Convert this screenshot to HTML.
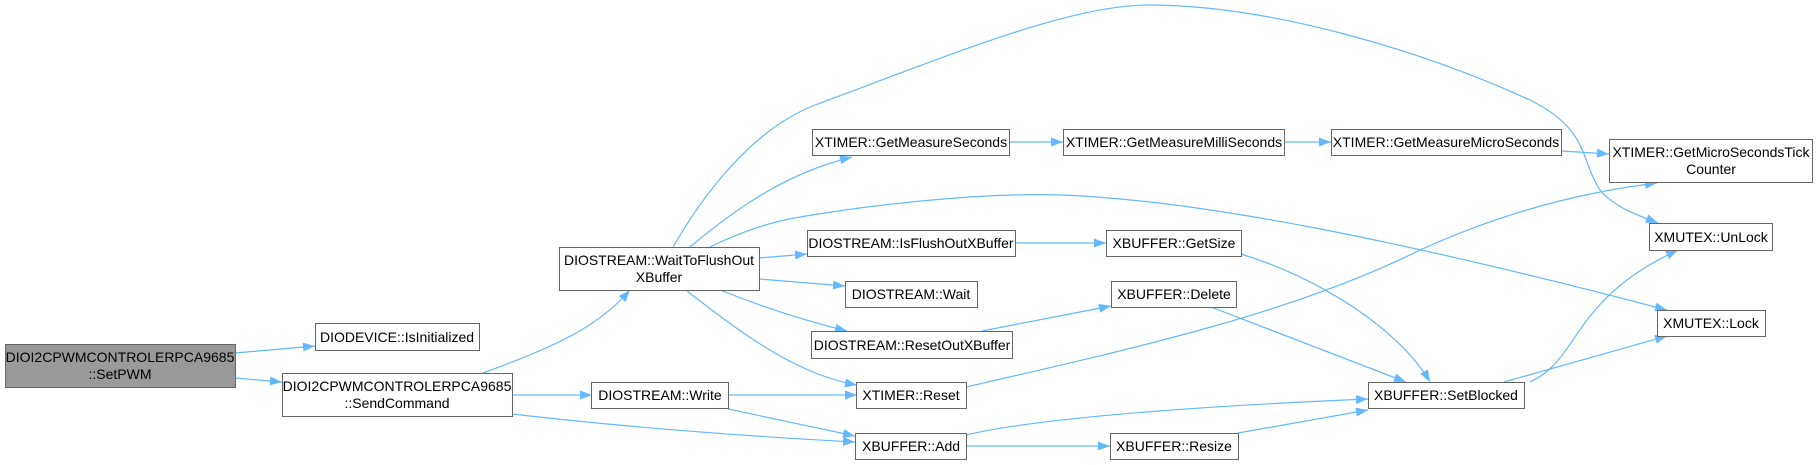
<!DOCTYPE html>
<html><head><meta charset="utf-8"><style>
html,body{margin:0;padding:0;background:#fff;width:1818px;height:465px;overflow:hidden}
svg text{font-family:"Liberation Sans",Arial,sans-serif;font-size:14px;fill:#000;text-anchor:middle}
.n{fill:#fff;stroke:#666;stroke-width:1}
.e{fill:none;stroke:#63b8ff;stroke-width:1.2}
</style></head><body>
<svg width="1818" height="465" viewBox="0 0 1818 465" xmlns="http://www.w3.org/2000/svg">
<defs><marker id="a" viewBox="0 0 12 9" refX="12" refY="4.5" markerWidth="12" markerHeight="9" markerUnits="userSpaceOnUse" orient="auto"><path d="M0,0L12,4.5L0,9z" fill="#63b8ff"/></marker></defs>
<g marker-end="url(#a)">
<path class="e" d="M235,353L315,346"/>
<path class="e" d="M235,378L282,382"/>
<path class="e" d="M483,373C560,345 600,325 630,290"/>
<path class="e" d="M512,395L592,395"/>
<path class="e" d="M512,414C650,430 780,438 855,442"/>
<path class="e" d="M673,247C700,200 750,130 815,105C950,55 1070,5 1148,5C1270,5 1420,50 1530,100C1590,130 1580,160 1600,190C1615,208 1640,216 1658,223"/>
<path class="e" d="M690,247C740,205 790,172 852,157"/>
<path class="e" d="M710,247C740,232 770,222 800,217C900,200 1000,193 1060,195C1200,200 1400,240 1667,310"/>
<path class="e" d="M759,258L807,254"/>
<path class="e" d="M759,279L845,286"/>
<path class="e" d="M720,290C770,310 810,322 847,331"/>
<path class="e" d="M687,291C750,340 800,375 857,385"/>
<path class="e" d="M1010,142L1063,142"/>
<path class="e" d="M1284,142L1331,142"/>
<path class="e" d="M1562,151L1609,154"/>
<path class="e" d="M1015,243L1106,243"/>
<path class="e" d="M1241,254C1320,278 1400,330 1430,382"/>
<path class="e" d="M1211,307L1406,382"/>
<path class="e" d="M982,331L1111,306"/>
<path class="e" d="M728,395L857,395"/>
<path class="e" d="M728,409L855,436"/>
<path class="e" d="M966,387C1150,345 1300,310 1420,250C1520,205 1600,190 1657,183"/>
<path class="e" d="M966,435C1050,415 1250,404 1368,399"/>
<path class="e" d="M966,446L1110,446"/>
<path class="e" d="M1238,433L1368,410"/>
<path class="e" d="M1530,382C1580,360 1570,300 1678,250"/>
<path class="e" d="M1504,382L1667,336"/>
</g>
<rect x="5.5" y="344.5" width="230" height="43" fill="#999" stroke="#666"/>
<text x="120" y="362">DIOI2CPWMCONTROLERPCA9685</text><text x="120" y="379">::SetPWM</text>
<rect class="n" x="315.5" y="323.5" width="164" height="27"/><text x="397" y="342">DIODEVICE::IsInitialized</text>
<rect class="n" x="282.5" y="373.5" width="230" height="43"/><text x="397" y="391">DIOI2CPWMCONTROLERPCA9685</text><text x="397" y="408">::SendCommand</text>
<rect class="n" x="559.5" y="247.5" width="200" height="43"/><text x="659" y="265">DIOSTREAM::WaitToFlushOut</text><text x="659" y="282">XBuffer</text>
<rect class="n" x="812.5" y="129.5" width="197" height="26"/><text x="911" y="147">XTIMER::GetMeasureSeconds</text>
<rect class="n" x="1063.5" y="129.5" width="221" height="26"/><text x="1174" y="147">XTIMER::GetMeasureMilliSeconds</text>
<rect class="n" x="1331.5" y="129.5" width="230" height="26"/><text x="1446" y="147">XTIMER::GetMeasureMicroSeconds</text>
<rect class="n" x="1609.5" y="139.5" width="203" height="43"/><text x="1711" y="157">XTIMER::GetMicroSecondsTick</text><text x="1711" y="174">Counter</text>
<rect class="n" x="807.5" y="230.5" width="208" height="26"/><text x="911" y="248">DIOSTREAM::IsFlushOutXBuffer</text>
<rect class="n" x="1106.5" y="230.5" width="135" height="26"/><text x="1174" y="248">XBUFFER::GetSize</text>
<rect class="n" x="845.5" y="281.5" width="132" height="26"/><text x="911" y="299">DIOSTREAM::Wait</text>
<rect class="n" x="1111.5" y="281.5" width="125" height="26"/><text x="1174" y="299">XBUFFER::Delete</text>
<rect class="n" x="811.5" y="331.5" width="201" height="27"/><text x="912" y="350">DIOSTREAM::ResetOutXBuffer</text>
<rect class="n" x="591.5" y="382.5" width="137" height="26"/><text x="660" y="400">DIOSTREAM::Write</text>
<rect class="n" x="856.5" y="382.5" width="110" height="26"/><text x="911" y="400">XTIMER::Reset</text>
<rect class="n" x="855.5" y="433.5" width="111" height="26"/><text x="911" y="451">XBUFFER::Add</text>
<rect class="n" x="1110.5" y="433.5" width="128" height="26"/><text x="1174" y="451">XBUFFER::Resize</text>
<rect class="n" x="1368.5" y="382.5" width="156" height="26"/><text x="1446" y="400">XBUFFER::SetBlocked</text>
<rect class="n" x="1649.5" y="223.5" width="123" height="27"/><text x="1711" y="242">XMUTEX::UnLock</text>
<rect class="n" x="1657.5" y="310.5" width="108" height="26"/><text x="1711" y="328">XMUTEX::Lock</text>
</svg>
</body></html>
